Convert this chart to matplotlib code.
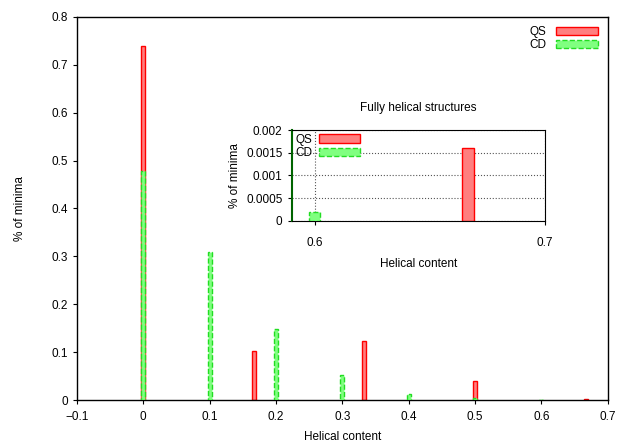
import matplotlib
matplotlib.use("Agg")
import matplotlib.pyplot as plt
import numpy as np

plt.rcParams["font.family"] = ["Liberation Sans", "DejaVu Sans"]
plt.rcParams["font.size"] = 8.5

# main histogram data (helical content vs % of minima)
qs_x = [0.0, 1 / 6, 1 / 3, 0.5, 2 / 3]
qs_y = [0.739, 0.102, 0.123, 0.040, 0.0016]
cd_x = [0.0, 0.1, 0.2, 0.3, 0.4, 0.5, 0.6]
cd_y = [0.478, 0.310, 0.149, 0.052, 0.013, 0.004, 0.0002]

# inset: fully helical structures
inset_qs_x = [2 / 3]
inset_qs_y = [0.0016]
inset_cd_x = [0.6]
inset_cd_y = [0.0002]

QS_FACE, QS_EDGE = "#ff7f7f", "#ff0000"
CD_FACE, CD_EDGE = "#80ff80", "#22dd22"

fig = plt.figure(figsize=(6.19, 4.44), dpi=100)
ax = fig.add_axes([0.124, 0.099, 0.858, 0.863])

ax.bar(qs_x, qs_y, width=0.006, color=QS_FACE, edgecolor=QS_EDGE, linewidth=1.0, label="QS", zorder=2)
ax.bar(cd_x, cd_y, width=0.006, color=CD_FACE, edgecolor=CD_EDGE, linewidth=1.0, linestyle="--", label="CD", zorder=3)

ax.set_xlim(-0.1, 0.7)
ax.set_ylim(0, 0.8)
ax.set_xticks(np.arange(-0.1, 0.71, 0.1))
ax.set_xticklabels(["\u22120.1", "0", "0.1", "0.2", "0.3", "0.4", "0.5", "0.6", "0.7"])
ax.set_yticks(np.arange(0, 0.81, 0.1))
ax.set_yticklabels(["0", "0.1", "0.2", "0.3", "0.4", "0.5", "0.6", "0.7", "0.8"])
ax.tick_params(direction="out", length=3, width=0.8)
ax.tick_params(axis="x", pad=5)
ax.set_xlabel("Helical content", labelpad=6)
ax.set_ylabel("% of minima", labelpad=18)
for s in ax.spines.values():
    s.set_linewidth(1.0)
ax.legend(loc="upper right", frameon=False, markerfirst=False, handlelength=3.6,
          handleheight=0.7, borderaxespad=0.4, labelspacing=0.1, handletextpad=0.8)

# inset
axi = fig.add_axes([0.471, 0.503, 0.409, 0.204])
axi.bar(inset_qs_x, inset_qs_y, width=0.005, color=QS_FACE, edgecolor=QS_EDGE, linewidth=1.0, label="QS", zorder=2)
axi.bar(inset_cd_x, inset_cd_y, width=0.005, color=CD_FACE, edgecolor=CD_EDGE, linewidth=1.0, linestyle="--", label="CD", zorder=3)
axi.set_xlim(0.59, 0.7)
axi.set_ylim(0, 0.002)
axi.set_xticks([0.6, 0.7])
axi.set_xticklabels(["0.6", "0.7"])
axi.set_yticks([0, 0.0005, 0.001, 0.0015, 0.002])
axi.set_yticklabels(["0", "0.0005", "0.001", "0.0015", "0.002"])
axi.grid(True, linestyle=":", color="#555555", linewidth=0.8)
axi.set_axisbelow(True)
axi.tick_params(direction="out", length=3, width=0.8)
axi.tick_params(axis="x", pad=9)
axi.spines["left"].set_color("#006400")
axi.spines["left"].set_linewidth(1.5)
axi.set_title("Fully helical structures", fontsize=8.5, pad=14)
axi.set_xlabel("Helical content", labelpad=6)
axi.set_ylabel("% of minima")
axi.legend(loc="upper left", frameon=False, markerfirst=False, handlelength=3.5,
           handleheight=0.7, borderaxespad=0.2, labelspacing=0.1, handletextpad=0.6,
           borderpad=0.1)

fig.savefig("out.png", dpi=100, facecolor="white")
